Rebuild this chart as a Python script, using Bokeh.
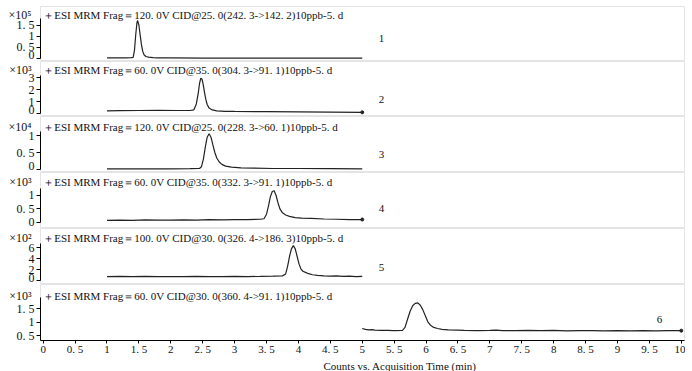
from bokeh.plotting import figure
from bokeh.layouts import column
from bokeh.models import Range1d, FixedTicker, CustomJSTickFormatter, Label, Title
from bokeh.embed import file_html
from bokeh.resources import INLINE

# ---------------- data ----------------
titles = [
    "＋ESI MRM Frag＝120. 0V CID@25. 0(242. 3->142. 2)10ppb-5. d",
    "＋ESI MRM Frag＝60. 0V CID@35. 0(304. 3->91. 1)10ppb-5. d",
    "＋ESI MRM Frag＝120. 0V CID@25. 0(228. 3->60. 1)10ppb-5. d",
    "＋ESI MRM Frag＝60. 0V CID@35. 0(332. 3->91. 1)10ppb-5. d",
    "＋ESI MRM Frag＝100. 0V CID@30. 0(326. 4->186. 3)10ppb-5. d",
    "＋ESI MRM Frag＝60. 0V CID@30. 0(360. 4->91. 1)10ppb-5. d",
]
multipliers = ["×10⁵", "×10³", "×10⁴", "×10³", "×10²", "×10³"]
x_title = "Counts vs. Acquisition Time (min)"
trace_numbers = ["1", "2", "3", "4", "5", "6"]
trace_number_x = [5.3, 5.3, 5.3, 5.3, 5.3, 9.66]
trace_number_y = [0.9, 1.17, 0.44, 0.51, 2.4, 1.09]

y_ticks = [
    [0, 0.5, 1, 1.5],
    [0, 1, 2, 3],
    [0, 0.5, 1],
    [0, 0.5, 1],
    [0, 2, 4, 6],
    [0.5, 1, 1.5],
]
x_ticks = [0, 0.5, 1, 1.5, 2, 2.5, 3, 3.5, 4, 4.5, 5, 5.5, 6, 6.5, 7, 7.5, 8, 8.5, 9, 9.5, 10]

p1_x = [1.00, 1.10, 1.20, 1.30, 1.38, 1.41, 1.43, 1.45, 1.47, 1.48, 1.50, 1.52, 1.54,
        1.56, 1.58, 1.61, 1.65, 1.72, 1.80, 2.00, 2.50, 3.00, 3.50, 4.00, 4.50, 5.00]
p1_y = [0.03, 0.03, 0.03, 0.03, 0.04, 0.05, 0.35, 1.05, 1.62, 1.70, 1.50, 1.05, 0.62,
        0.32, 0.17, 0.09, 0.06, 0.04, 0.03, 0.03, 0.02, 0.02, 0.02, 0.02, 0.02, 0.02]

p2_x = [1.00, 1.20, 1.50, 1.80, 2.10, 2.30, 2.36, 2.40, 2.43, 2.45, 2.47, 2.49, 2.51,
        2.53, 2.55, 2.57, 2.60, 2.65, 2.72, 2.85, 3.00, 3.50, 4.00, 4.50, 5.00]
p2_y = [0.22, 0.24, 0.25, 0.26, 0.25, 0.25, 0.30, 0.80, 1.70, 2.50, 2.95, 2.85, 2.35,
        1.70, 1.15, 0.75, 0.45, 0.30, 0.22, 0.18, 0.17, 0.15, 0.13, 0.12, 0.10]

p3_x = [1.00, 1.50, 2.00, 2.30, 2.45, 2.48, 2.51, 2.54, 2.57, 2.60, 2.63, 2.66, 2.69,
        2.72, 2.76, 2.80, 2.86, 2.95, 3.10, 3.30, 3.60, 4.00, 4.50, 5.00]
p3_y = [0.02, 0.02, 0.02, 0.025, 0.03, 0.08, 0.30, 0.65, 0.95, 1.05, 0.95, 0.72, 0.50,
        0.34, 0.22, 0.15, 0.10, 0.07, 0.05, 0.04, 0.03, 0.03, 0.025, 0.02]

p4_x = [1.00, 1.20, 1.40, 1.60, 1.80, 2.00, 2.20, 2.40, 2.60, 2.80, 3.00, 3.20, 3.40,
        3.46, 3.50, 3.53, 3.56, 3.59, 3.62, 3.65, 3.68, 3.71, 3.75, 3.80, 3.86, 3.95,
        4.05, 4.20, 4.40, 4.60, 4.80, 5.00]
p4_y = [0.07, 0.08, 0.07, 0.09, 0.08, 0.08, 0.09, 0.08, 0.10, 0.09, 0.10, 0.10, 0.11,
        0.13, 0.30, 0.60, 0.95, 1.15, 1.18, 1.00, 0.72, 0.50, 0.35, 0.27, 0.22, 0.17,
        0.15, 0.14, 0.12, 0.11, 0.10, 0.10]

p5_x = [1.00, 1.20, 1.40, 1.60, 1.80, 2.00, 2.20, 2.40, 2.60, 2.80, 3.00, 3.20, 3.40,
        3.60, 3.75, 3.80, 3.83, 3.86, 3.89, 3.92, 3.95, 3.98, 4.01, 4.04, 4.07, 4.11,
        4.16, 4.22, 4.30, 4.40, 4.50, 4.60, 4.70, 4.80, 4.90, 5.00]
p5_y = [0.70, 0.75, 0.70, 0.75, 0.70, 0.72, 0.70, 0.75, 0.70, 0.72, 0.75, 0.72, 0.75,
        0.80, 0.85, 1.20, 2.60, 4.40, 5.80, 6.40, 5.80, 4.40, 3.00, 2.10, 1.70, 1.50,
        1.25, 1.05, 0.95, 0.85, 0.80, 0.85, 0.75, 0.80, 0.72, 0.75]

p6_x = [5.00, 5.05, 5.10, 5.15, 5.20, 5.30, 5.40, 5.50, 5.63, 5.67, 5.71, 5.75, 5.79,
        5.83, 5.87, 5.91, 5.95, 5.99, 6.03, 6.07, 6.12, 6.18, 6.25, 6.35, 6.50, 6.60,
        6.80, 7.00, 7.10, 7.20, 7.40, 7.60, 7.80, 8.00, 8.20, 8.40, 8.60, 8.80, 9.00,
        9.20, 9.40, 9.60, 9.80, 10.00]
p6_y = [0.76, 0.73, 0.71, 0.72, 0.70, 0.69, 0.69, 0.68, 0.69, 0.80, 1.10, 1.40, 1.60,
        1.69, 1.71, 1.62, 1.45, 1.22, 1.00, 0.88, 0.80, 0.76, 0.73, 0.71, 0.70, 0.69,
        0.68, 0.69, 0.70, 0.68, 0.68, 0.69, 0.68, 0.69, 0.67, 0.68, 0.68, 0.67, 0.68,
        0.67, 0.68, 0.67, 0.68, 0.68]

traces_x = [p1_x, p2_x, p3_x, p4_x, p5_x, p6_x]
traces_y = [p1_y, p2_y, p3_y, p4_y, p5_y, p6_y]
end_dots = [False, True, False, True, False, True]

# ---------------- layout / style ----------------
FONT = "Liberation Serif"
TXT = "#111111"
frame_heights = [55, 55, 56, 56, 56, 56]
top_area = 6
bottom_area = 31
# value at frame bottom, pixels per unit
y_base = [(-0.134, 22.33), (-0.25, 12.0), (-0.088, 34.0), (-0.236, 26.7), (-0.734, 5.45), (0.315, 27.0)]
axis_top = [1.77, 3.17, 1.13, 1.26, 6.8, 1.9]
title_offset = [8, 8, 10.5, 9.5, 9.5, 11]
X0, X1 = -0.042, 10.05

x_range = Range1d(X0, X1)
x_fmt = CustomJSTickFormatter(code="return String(tick).replace('.', '. ');")

figs = []
for i in range(6):
    first = i == 0
    last = i == 5
    H = frame_heights[i]
    start, ppu = y_base[i]
    end = start + H / ppu
    ty = end - title_offset[i] / ppu
    p = figure(width=685, height=H + (bottom_area if last else 0) + (top_area if first else 0),
               x_range=x_range, y_range=Range1d(start, end),
               output_backend="svg", toolbar_location=None, title=None,
               x_axis_location="below" if last else None,
               min_border_left=40, min_border_right=1,
               min_border_top=top_area if first else 0,
               min_border_bottom=bottom_area if last else 0)
    p.grid.visible = False
    p.outline_line_color = "#e4e4e4"
    p.outline_line_width = 1
    p.background_fill_color = "white"
    p.border_fill_color = "white"

    ya = p.yaxis[0]
    # real ticks drawn as (minor) tick marks; the exponent label sits on an unmarked extra tick
    ya.ticker = FixedTicker(ticks=y_ticks[i] + [ty], minor_ticks=y_ticks[i])
    ya.formatter = CustomJSTickFormatter(
        args=dict(ty=ty, mult=multipliers[i] + "\u00a0"),
        code="if (Math.abs(tick - ty) < 1e-6) { return mult; } "
             "return String(tick).replace('.', '. ');")
    ya.bounds = (start if last else 0, axis_top[i])
    ya.axis_line_color = "black"
    ya.major_tick_line_color = None
    ya.major_tick_out = 4
    ya.major_tick_in = 0
    ya.minor_tick_line_color = "black"
    ya.minor_tick_out = 4
    ya.minor_tick_in = 0
    ya.major_label_standoff = 2
    ya.major_label_text_font = FONT
    ya.major_label_text_font_size = "12px"
    ya.major_label_text_color = TXT

    if last:
        xa = p.xaxis[0]
        xa.ticker = FixedTicker(ticks=x_ticks)
        xa.formatter = x_fmt
        xa.axis_line_color = "black"
        xa.major_tick_line_color = "black"
        xa.major_tick_out = 3
        xa.major_tick_in = 0
        xa.minor_tick_line_color = None
        xa.major_label_standoff = -1
        xa.major_label_text_font = FONT
        xa.major_label_text_font_size = "11px"
        xa.major_label_text_color = TXT
        p.add_layout(Title(text=x_title, align="left", offset=283, standoff=0,
                           text_font=FONT, text_font_size="11px",
                           text_font_style="normal", text_color=TXT), "below")

    p.line(traces_x[i], traces_y[i], line_color="#222222", line_width=1.2)
    if end_dots[i]:
        p.scatter(traces_x[i][-1:], traces_y[i][-1:], size=3, color="#222222")

    p.add_layout(Label(x=0.0, y=ty, text=titles[i], text_font=FONT,
                       text_font_size="11px", text_color=TXT,
                       text_align="left", text_baseline="middle"))
    p.add_layout(Label(x=trace_number_x[i], y=trace_number_y[i], text=trace_numbers[i],
                       text_font=FONT, text_font_size="11px", text_color=TXT,
                       text_align="center", text_baseline="middle"))
    figs.append(p)

layout = column(*figs, spacing=0)
open("out.html", "w").write(file_html(layout, INLINE))
